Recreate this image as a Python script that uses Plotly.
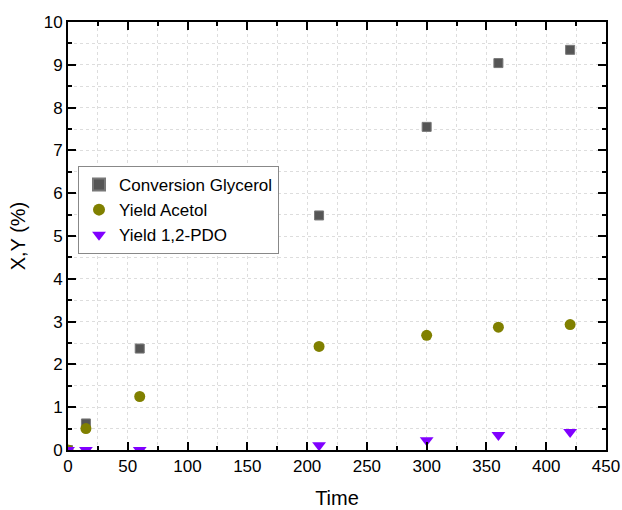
import plotly.graph_objects as go

time = [0, 15, 60, 210, 300, 360, 420]
conversion_glycerol = [0, 0.62, 2.37, 5.48, 7.55, 9.04, 9.35]
yield_acetol = [0, 0.50, 1.25, 2.42, 2.68, 2.87, 2.93]
yield_pdo = [0, 0.0, 0.0, 0.11, 0.23, 0.35, 0.42]

FONT = "Arial, Liberation Sans"

fig = go.Figure()
fig.add_trace(go.Scatter(x=time, y=conversion_glycerol, mode="markers", name="Conversion Glycerol",
                         marker=dict(symbol="square", size=9, color="#555555",
                                     line=dict(color="#777777", width=1))))
fig.add_trace(go.Scatter(x=time, y=yield_acetol, mode="markers", name="Yield Acetol",
                         marker=dict(symbol="circle", size=11, color="#808000",
                                     line=dict(color="#808000", width=0))))
fig.add_trace(go.Scatter(x=time, y=yield_pdo, mode="markers", name="Yield 1,2-PDO",
                         marker=dict(symbol="triangle-down", size=12, color="#8000ff",
                                     line=dict(width=0))))

axis_common = dict(
    showline=True, linecolor="black", linewidth=2, mirror="ticks",
    ticks="inside", ticklen=8, tickwidth=2, tickcolor="black",
    showgrid=True, gridcolor="#dddddd", griddash="dot", gridwidth=1,
    zeroline=False, automargin=False, ticklabeloverflow="allow",
    tickfont=dict(family=FONT, size=17, color="black"),
)
minor_common = dict(ticks="inside", ticklen=4, tickwidth=2, tickcolor="black",
                    showgrid=True, gridcolor="#dddddd", griddash="dot", gridwidth=1)

fig.update_xaxes(range=[0, 450], dtick=50, **axis_common,
                 minor=dict(dtick=25, **minor_common),
                 title=dict(text="Time", font=dict(family=FONT, size=20, color="black"),
                            standoff=16))
fig.update_yaxes(range=[0, 10], dtick=1, **axis_common,
                 minor=dict(dtick=0.5, **minor_common),
                 title=dict(text="X,Y (%)", font=dict(family=FONT, size=20, color="black"),
                            standoff=13))

fig.update_layout(
    width=622, height=510,
    margin=dict(l=68, r=16, t=22, b=60),
    paper_bgcolor="white", plot_bgcolor="white",
    font=dict(family=FONT, color="black"),
    legend=dict(x=0.0186, y=0.6636, xanchor="left", yanchor="top",
                bgcolor="white", bordercolor="#888888", borderwidth=1,
                font=dict(family=FONT, size=17, color="black"),
                itemsizing="constant", tracegroupgap=0),
)

# remove the default 8px page margin so the 622x510 figure fills the window exactly
fig.write_html("out.html", default_width="622px", default_height="510px",
               config={"displayModeBar": False},
               post_script="document.body.style.margin='0';document.body.style.overflow='hidden';")
